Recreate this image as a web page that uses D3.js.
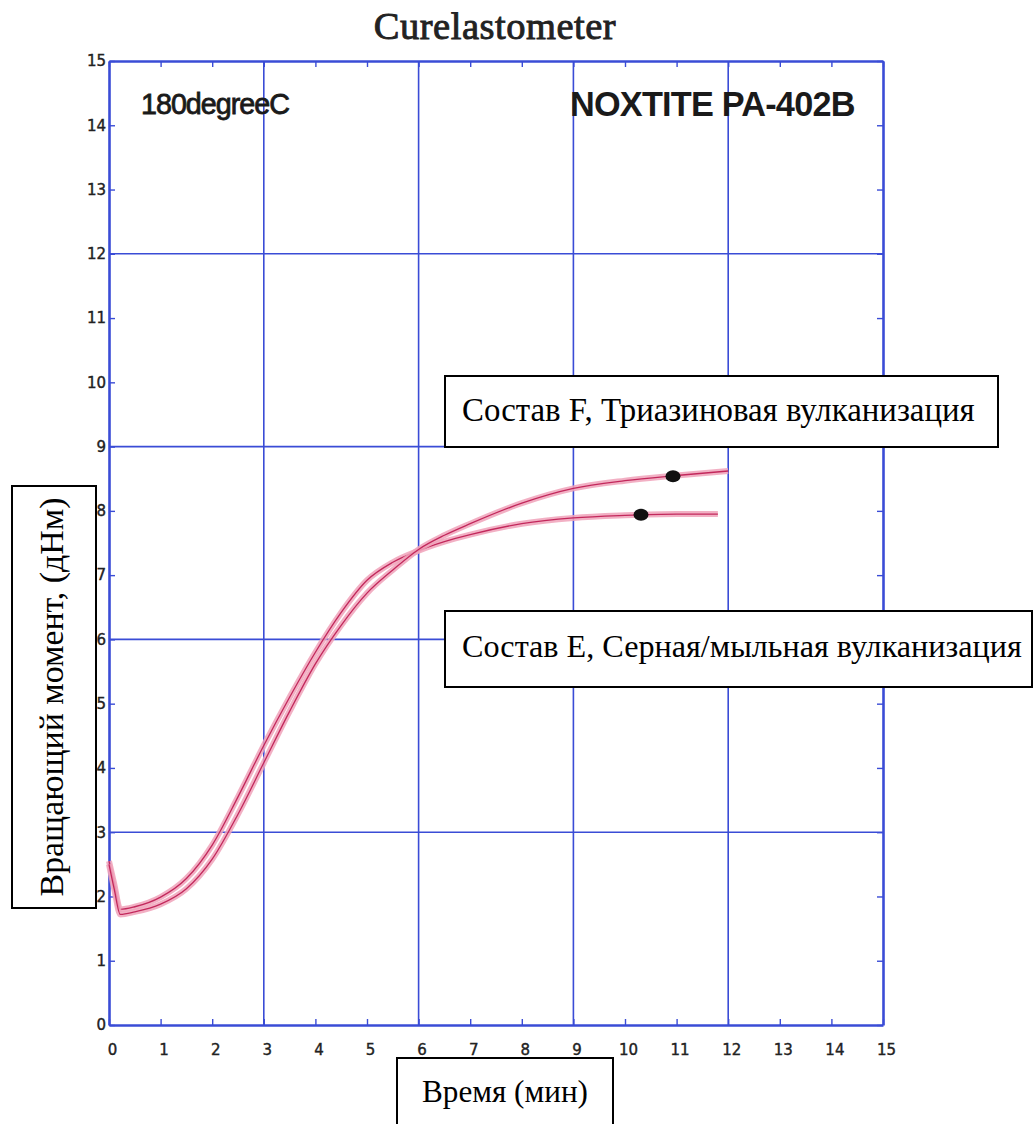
<!DOCTYPE html>
<html><head><meta charset="utf-8">
<script src="https://cdn.jsdelivr.net/npm/d3@7"></script>
<style>body{margin:0;background:#fff}svg{display:block}</style>
</head><body>
<script>
// ---- data ----
const timeE = [0, 0.1, 0.22, 0.5, 1, 1.5, 2, 2.5, 3, 3.5, 4, 4.5, 5, 5.5, 6, 6.5, 7, 8, 9, 10, 11, 11.8];
const torqueE = [2.55, 2.2, 1.8, 1.84, 1.99, 2.28, 2.8, 3.55, 4.35, 5.1, 5.8, 6.42, 6.92, 7.2, 7.38, 7.52, 7.63, 7.8, 7.89, 7.93, 7.95, 7.95];
const timeF = [0, 0.1, 0.22, 0.5, 1, 1.5, 2, 2.5, 3, 3.5, 4, 4.5, 5, 5.5, 6, 6.5, 7, 8, 9, 10, 11, 12];
const torqueF = [2.5, 2.12, 1.72, 1.76, 1.88, 2.12, 2.58, 3.28, 4.08, 4.88, 5.62, 6.22, 6.72, 7.08, 7.4, 7.62, 7.8, 8.12, 8.35, 8.47, 8.55, 8.62];
const markerT = [10.93, 10.31];
const markerV = [8.54, 7.94];
const xTicks = d3.range(0, 16);
const yTicks = d3.range(0, 16);
const gridVals = [3, 6, 9, 12];
const title = "Curelastometer";
const tempLabel = "180degreeC";
const productLabel = "NOXTITE PA-402B";
const labelF = "Состав F, Триазиновая вулканизация";
const labelE = "Состав E, Серная/мыльная вулканизация";
const xTitle = "Время (мин)";
const yTitle = "Вращающий момент, (дНм)";

const W = 1034, H = 1124;
const svg = d3.select("body").append("svg").attr("width", W).attr("height", H);
const x = d3.scaleLinear().domain([0, 15]).range([109, 883]);
const y = d3.scaleLinear().domain([0, 15]).range([1025, 61]);
const blue = "#3a4cd6";

// grid
svg.append("g").selectAll("line").data(gridVals).join("line")
  .attr("x1", d => x(d)).attr("x2", d => x(d)).attr("y1", y(15)).attr("y2", y(0))
  .attr("stroke", blue).attr("stroke-width", 1.6);
svg.append("g").selectAll("line").data(gridVals).join("line")
  .attr("y1", d => y(d)).attr("y2", d => y(d)).attr("x1", x(0)).attr("x2", x(15))
  .attr("stroke", blue).attr("stroke-width", 1.6);

// axes (ticks inward)
const axStyle = g => { g.selectAll("path").attr("stroke", blue).attr("stroke-width", 2.6);
  g.selectAll(".tick line").attr("stroke", blue).attr("stroke-width", 1.4); };
const tickText = g => g.attr("font-size", null).selectAll("text")
  .style("font-family", "DejaVu Sans").style("font-size", "15px")
  .attr("fill", "#222").attr("stroke", "#222").attr("stroke-width", 0.4);
svg.append("g").attr("transform", `translate(0,${y(0)})`)
  .call(d3.axisBottom(x).tickValues(xTicks).tickSize(-6).tickSizeOuter(0).tickPadding(19).tickFormat(d3.format("d")))
  .call(axStyle).call(tickText)
  .call(g => g.selectAll("text").attr("dx", 3));
svg.append("g").attr("transform", `translate(0,${y(15)})`)
  .call(d3.axisTop(x).tickValues(xTicks).tickSize(-6).tickSizeOuter(0).tickFormat(""))
  .call(axStyle);
svg.append("g").attr("transform", `translate(${x(0)},0)`)
  .call(d3.axisLeft(y).tickValues(yTicks).tickSize(-6).tickSizeOuter(0).tickPadding(3).tickFormat(d3.format("d")))
  .call(axStyle).call(tickText);
svg.append("g").attr("transform", `translate(${x(15)},0)`)
  .call(d3.axisRight(y).tickValues(yTicks).tickSize(-6).tickSizeOuter(0).tickFormat(""))
  .call(axStyle);

// curves
const line = d3.line().x(d => x(d[0])).y(d => y(d[1])).curve(d3.curveMonotoneX);
const series = [d3.zip(timeE, torqueE), d3.zip(timeF, torqueF)];
series.forEach(s => {
  svg.append("path").datum(s).attr("d", line).attr("fill", "none")
    .attr("stroke", "#f0a2ba").attr("stroke-width", 6).attr("stroke-opacity", 0.85);
  svg.append("path").datum(s).attr("d", line).attr("fill", "none")
    .attr("stroke", "#c2285c").attr("stroke-width", 1.3);
});
// markers
svg.append("g").selectAll("ellipse").data(d3.zip(markerT, markerV)).join("ellipse")
  .attr("cx", d => x(d[0])).attr("cy", d => y(d[1])).attr("rx", 7.5).attr("ry", 6).attr("fill", "#111");

// fit helper
function fit(sel, target) {
  const len = sel.node().getComputedTextLength();
  const fs = +sel.attr("font-size");
  sel.attr("font-size", fs * target / len);
  return sel;
}

// title & labels
fit(svg.append("text").attr("x", 495).attr("y", 39).attr("text-anchor", "middle")
  .attr("font-family", "Liberation Serif").attr("font-size", 28).attr("fill", "#222")
  .attr("stroke", "#222").attr("stroke-width", 0.9).attr("letter-spacing", 0.5)
  .text(title), 245);
fit(svg.append("text").attr("x", 141).attr("y", 114)
  .attr("font-family", "Liberation Sans").attr("font-size", 26).attr("fill", "#1a1a1a")
  .attr("stroke", "#1a1a1a").attr("stroke-width", 0.8).attr("letter-spacing", -1)
  .text(tempLabel), 147);
fit(svg.append("text").attr("x", 570).attr("y", 116)
  .attr("font-family", "Liberation Sans").attr("font-weight", "bold").attr("font-size", 28).attr("fill", "#1a1a1a").attr("letter-spacing", -0.8)
  .text(productLabel), 282);

// boxed annotations
function box(x0, y0, w, h) {
  svg.append("rect").attr("x", x0).attr("y", y0).attr("width", w).attr("height", h)
    .attr("fill", "#fff").attr("stroke", "#000").attr("stroke-width", 2);
}
box(445, 376, 553, 71);
fit(svg.append("text").attr("x", 462).attr("y", 421).attr("font-family", "Liberation Serif")
  .attr("font-size", 24).attr("fill", "#000").text(labelF), 513);
box(445, 611, 587, 76);
fit(svg.append("text").attr("x", 462).attr("y", 657).attr("font-family", "Liberation Serif")
  .attr("font-size", 24).attr("fill", "#000").text(labelE), 560);
box(397, 1058, 216, 70);
fit(svg.append("text").attr("x", 505).attr("y", 1102).attr("text-anchor", "middle").attr("font-family", "Liberation Serif")
  .attr("font-size", 24).attr("fill", "#000").text(xTitle), 166);
box(12, 486, 84, 422);
fit(svg.append("text").attr("transform", "translate(63,697) rotate(-90)").attr("text-anchor", "middle").attr("font-family", "Liberation Serif")
  .attr("font-size", 24).attr("fill", "#000").text(yTitle), 399);
</script>
</body></html>
